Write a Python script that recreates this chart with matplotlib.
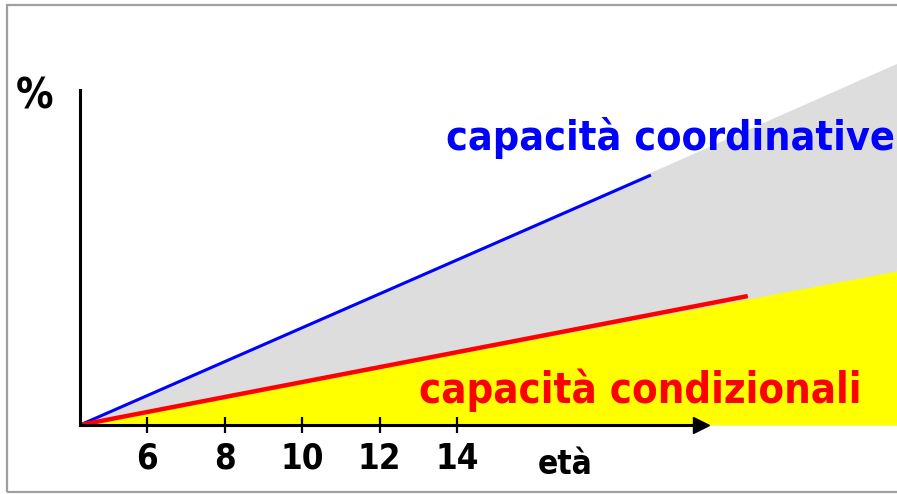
import matplotlib
matplotlib.use('Agg')
import matplotlib.pyplot as plt
from matplotlib.patches import Rectangle

# età (anni) e valori in %
eta_inizio = 4.27
eta_fine = 25.35
area_grigia = [0, 108]
area_gialla = [0, 46]
eta_coord = [4.27, 19.0]
coordinative = [0, 74.6]
eta_cond = [4.27, 21.5]
condizionali = [0, 38.5]
tick_eta = [6, 8, 10, 12, 14]

FONT = ['DejaVu Sans']
STRETCH = 'condensed'

fig = plt.figure(figsize=(8.97, 4.94), dpi=100)
fig.patch.set_facecolor('white')

# cornice grigia
fig.patches.append(Rectangle((6.5 / 897, 1 - 492 / 494), 2, (492 - 5) / 494,
                             transform=fig.transFigure, fill=False,
                             edgecolor='#a0a0a0', linewidth=1.6))

ax = fig.add_axes([80 / 897, 69 / 494, 817 / 897, 425 / 494])
ax.set_xlim(eta_inizio, eta_fine)
ax.set_ylim(0, 425 / 3.35)
ax.patch.set_alpha(0)

ax.fill_between([eta_inizio, eta_fine], area_grigia, color='#dddddd', lw=0)
ax.fill_between([eta_inizio, eta_fine], area_gialla, color='#ffff00', lw=0)
ax.plot(eta_coord, coordinative, color='#0000ff', lw=2.2, solid_capstyle='butt')
ax.plot(eta_cond, condizionali, color='#ff0000', lw=3.2, solid_capstyle='butt')

# assi
for s in ['top', 'right']:
    ax.spines[s].set_visible(False)
ax.spines['left'].set_bounds(0, 100)
ax.spines['bottom'].set_bounds(eta_inizio, 20.3)
ax.spines['left'].set_linewidth(2.2)
ax.spines['bottom'].set_linewidth(2.2)
ax.plot([20.3], [0], marker='>', color='black', markersize=11, clip_on=False)

ax.set_xticks(tick_eta)
ax.set_xticklabels([str(t) for t in tick_eta])
ax.set_yticks([])
ax.tick_params(axis='x', direction='inout', length=12, width=1.6, pad=6,
               labelsize=25)
for lab in ax.get_xticklabels():
    lab.set_fontfamily(FONT)
    lab.set_fontweight('bold')
    lab.set_fontstretch(STRETCH)

ax.text(16.8, -7.0, 'età', ha='center', va='top', fontsize=24,
        fontweight='bold', family=FONT, fontstretch=STRETCH)
fig.text(34 / 897, 1 - 96 / 494, '%', ha='center', va='center', fontsize=30,
         fontweight='bold', family=FONT, fontstretch=STRETCH)

ax.text(446 / 897, 1 - 150 / 494, 'capacità coordinative', transform=fig.transFigure,
        ha='left', va='baseline', fontsize=29.5, fontweight='bold', color='#0000ff',
        family=FONT, fontstretch=STRETCH)
ax.text(419 / 897, 1 - 403 / 494, 'capacità condizionali', transform=fig.transFigure,
        ha='left', va='baseline', fontsize=30, fontweight='bold', color='#ff0000',
        family=FONT, fontstretch=STRETCH)

fig.savefig('out.png', dpi=100)
